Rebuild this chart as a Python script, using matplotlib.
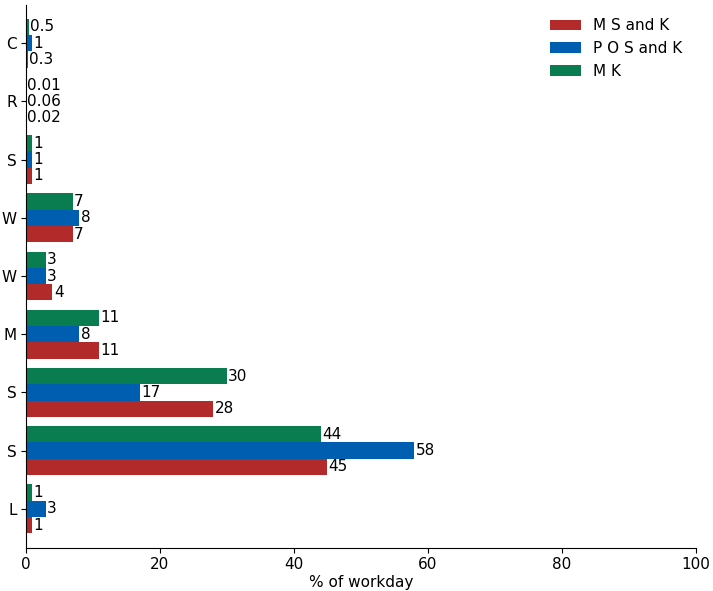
import matplotlib.pyplot as plt
import numpy as np

# categories bottom to top
categories = ['L', 'S', 'S', 'M', 'W', 'W', 'S', 'R', 'C']
ms_and_k = [1, 45, 28, 11, 4, 7, 1, 0.02, 0.3]
pos_and_k = [3, 58, 17, 8, 3, 8, 1, 0.06, 1]
mk = [1, 44, 30, 11, 3, 7, 1, 0.01, 0.5]

series = [('M S and K', ms_and_k, '#B22A2A'),
          ('P O S and K', pos_and_k, '#005EB0'),
          ('M K', mk, '#0A7D50')]

fig = plt.figure(figsize=(7.13, 5.91), dpi=100)
ax = fig.add_axes([0.036, 0.073, 0.94, 0.919])

y = np.arange(len(categories))
h = 0.28
for i, (name, vals, col) in enumerate(series):
    bars = ax.barh(y + (i - 1) * h, vals, height=h, color=col, label=name)
    ax.bar_label(bars, labels=['%g' % v for v in vals], padding=1, fontsize=11)

ax.set_yticks(y)
ax.set_yticklabels(categories, fontsize=11)
ax.set_xlim(0, 100)
ax.set_ylim(-0.67, 8.66)
ax.set_xticks([0, 20, 40, 60, 80, 100])
ax.tick_params(axis='x', labelsize=11, pad=3)
ax.tick_params(axis='y', pad=3)
ax.set_xlabel('% of workday', fontsize=11, labelpad=2)
ax.spines['top'].set_visible(False)
ax.spines['right'].set_visible(False)
ax.legend(loc='upper right', frameon=False, fontsize=11,
          bbox_to_anchor=(1.0, 1.0), handlelength=2.0)

plt.savefig('out.png', dpi=100)
